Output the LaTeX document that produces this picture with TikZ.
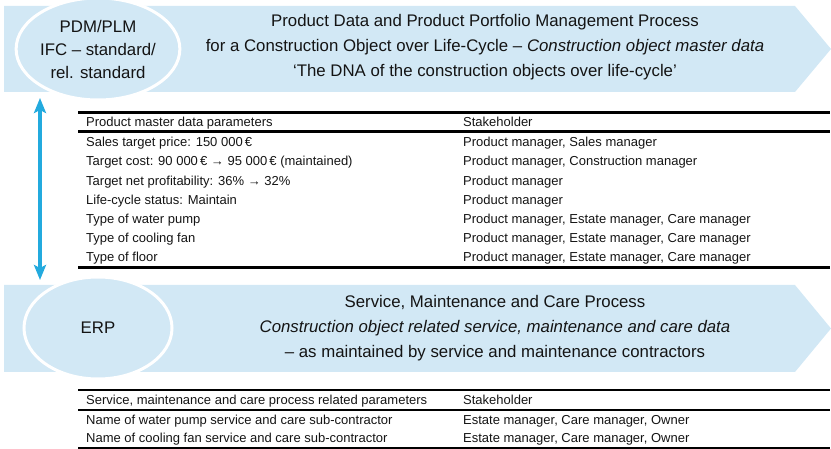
\documentclass[tikz,border=0pt]{standalone}
\usepackage{fontspec}
\setmainfont{Liberation Sans}
\usetikzlibrary{shapes.geometric,arrows.meta}
\definecolor{bannerblue}{RGB}{210,232,245}
\definecolor{arrowblue}{RGB}{35,170,222}
\definecolor{txt}{RGB}{20,20,20}
\tikzset{
  sysellipse/.style={ellipse, fill=bannerblue, draw=white, line width=3pt,
    minimum width=148pt, minimum height=102pt, inner sep=0pt, align=center,
    text=txt, font=\fontsize{16.8}{23}\selectfont},
  titletext/.style={align=center, text=txt, inner sep=0pt, font=\fontsize{16.8}{25}\selectfont},
  cell/.style={anchor=base west, inner sep=0pt, text=txt, font=\fontsize{13}{15}\selectfont},
  tabrule/.style={line width=2.2pt, black},
  linkarrow/.style={arrowblue, line width=3.5pt,
    {Stealth[length=15pt,width=12pt,inset=3pt]}-{Stealth[length=15pt,width=12pt,inset=3pt]}}
}
\begin{document}
\begin{tikzpicture}[x=1pt,y=-1pt]
\useasboundingbox (0,0) rectangle (831,449);
% top banner
\fill[bannerblue] (4,6) -- (795,6) -- (831,49) -- (795,92) -- (4,92) -- cycle;
\node[sysellipse] (pdm) at (98,49) {PDM/PLM\\IFC -- standard/\\rel. standard};
\node[titletext] (ttl1) at (485,47) {Product Data and Product Portfolio Management Process\\
for a Construction Object over Life-Cycle -- \textit{Construction object master data}\\
`The DNA of the construction objects over life-cycle'};
% top table
\draw[tabrule] (78,112.5) -- (830,112.5);
\draw[tabrule] (78,131.5) -- (830,131.5);
\draw[tabrule] (78,267.5) -- (830,267.5);
\node[cell] (h1a) at (86,126.7) {Product master data parameters};
\node[cell] (h1b) at (463,126.7) {Stakeholder};
\node[cell] (r1a) at (86,146.7) {Sales target price: 150 000\,€};
\node[cell] (r1b) at (463,146.7) {Product manager, Sales manager};
\node[cell] (r2a) at (86,165.9) {Target cost: 90 000\,€ → 95 000\,€ (maintained)};
\node[cell] (r2b) at (463,165.9) {Product manager, Construction manager};
\node[cell] (r3a) at (86,185.1) {Target net profitability: 36\% → 32\%};
\node[cell] (r3b) at (463,185.1) {Product manager};
\node[cell] (r4a) at (86,204.3) {Life-cycle status: Maintain};
\node[cell] (r4b) at (463,204.3) {Product manager};
\node[cell] (r5a) at (86,223.5) {Type of water pump};
\node[cell] (r5b) at (463,223.5) {Product manager, Estate manager, Care manager};
\node[cell] (r6a) at (86,242.7) {Type of cooling fan};
\node[cell] (r6b) at (463,242.7) {Product manager, Estate manager, Care manager};
\node[cell] (r7a) at (86,261.9) {Type of floor};
\node[cell] (r7b) at (463,261.9) {Product manager, Estate manager, Care manager};
% bottom banner
\fill[bannerblue] (4,285) -- (795,285) -- (831,328.5) -- (795,372) -- (4,372) -- cycle;
\node[sysellipse] (erp) at (98,328) {ERP};
\node[titletext] (ttl2) at (495,328) {Service, Maintenance and Care Process\\
\textit{Construction object related service, maintenance and care data}\\
-- as maintained by service and maintenance contractors};
% bottom table
\draw[tabrule] (78,390) -- (830,390);
\draw[tabrule] (78,410) -- (830,410);
\draw[tabrule] (78,447.9) -- (830,447.9);
\node[cell] (h2a) at (86,404.7) {Service, maintenance and care process related parameters};
\node[cell] (h2b) at (463,404.7) {Stakeholder};
\node[cell] (s1a) at (86,424.2) {Name of water pump service and care sub-contractor};
\node[cell] (s1b) at (463,424.2) {Estate manager, Care manager, Owner};
\node[cell] (s2a) at (86,442.7) {Name of cooling fan service and care sub-contractor};
\node[cell] (s2b) at (463,442.7) {Estate manager, Care manager, Owner};
% link arrow
\coordinate (ar1) at (40,98);
\coordinate (ar2) at (40,280);
\draw[linkarrow] (ar1) -- (ar2);
\end{tikzpicture}
\end{document}
